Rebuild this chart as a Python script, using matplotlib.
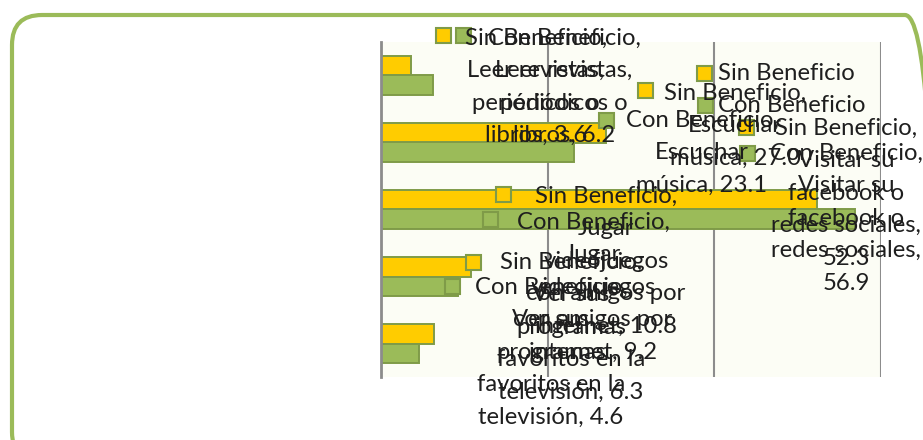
import matplotlib
matplotlib.use("Agg")
import matplotlib.pyplot as plt
from matplotlib.patches import Rectangle, FancyBboxPatch
import numpy as np

# ---------------- data ----------------
categories = [
    "Leer revistas,\nperiódicos o\nlibros",
    "Escuchar\nmúsica",
    "Visitar su\nfacebook o\nredes sociales",
    "Jugar\nvideojuegos\ncon amigos por\ninternet",
    "Ver sus\nprogramas\nfavoritos en la\ntelevisión",
]
series_names = ["Sin Beneficio", "Con Beneficio"]
sin_beneficio = [3.6, 27.0, 52.3, 10.8, 6.3]
con_beneficio = [6.2, 23.1, 56.9, 9.2, 4.6]
x_ticks = [0, 20, 40, 60]

# ---------------- style / layout ----------------
W, H, DPI = 923, 440, 100
YELLOW = "#FFCC00"
GREEN = "#9BBB59"
EDGE = "#7F9B48"
GRID = "#8C8C8C"
TEXT = "#1E1E1E"
FONT = ["Lato", "DejaVu Sans"]
FS = 17.2
LINE_H = 32.6  # px between label lines
# where the value goes after the category text (same line or next line)
value_sep = [" ", " ", "\n", " ", " "]
# label placement (pixels from top-left): text center x, first line y, key x, key y
label_pos = {
    (0, 0): (536, 38, 443.5, 35.5),
    (1, 0): (564, 38, 463.5, 35.5),
    (0, 1): (735, 93, 645, 90.5),
    (1, 1): (702, 120, 606.5, 120),
    (0, 2): (846, 128, 746.5, 127.5),
    (1, 2): (846, 153, 747.5, 153),
    (0, 3): (606, 196, 503.5, 194.5),
    (1, 3): (593, 222, 490.5, 219.5),
    (0, 4): (571, 262, 473.5, 262),
    (1, 4): (551, 287, 452, 286.5),
}
legend_pos = [(704.5, 73), (705, 105)]
KEY = 15

fig = plt.figure(figsize=(W / DPI, H / DPI), dpi=DPI)
fig.patch.set_facecolor("white")

# outer rounded frame (partly outside the picture, as in the original)
frame = FancyBboxPatch((12 / DPI, (H - 462) / DPI), (935 - 12) / DPI, (462 - 15) / DPI,
                       boxstyle="round,pad=0,rounding_size=0.3",
                       transform=fig.dpi_scale_trans, facecolor="none",
                       edgecolor=GREEN, linewidth=3.0, zorder=0)
fig.patches.append(frame)

ax = fig.add_axes([381 / W, 1 - 377 / H, (881 - 381) / W, (377 - 42) / H])
ax.set_facecolor("#FCFDF5")
n = len(categories)
y = np.arange(n)
bh = 0.284
ax.barh(y - bh / 2, sin_beneficio, height=bh, color=YELLOW, edgecolor=EDGE,
        linewidth=1.4, zorder=3, label=series_names[0])
ax.barh(y + bh / 2, con_beneficio, height=bh, color=GREEN, edgecolor=EDGE,
        linewidth=1.4, zorder=3, label=series_names[1])
ax.set_xlim(0, 60)
ax.set_ylim(n - 0.5, -0.5)
ax.set_xticks(x_ticks)
ax.set_xticklabels([])
ax.set_yticks([])
ax.tick_params(length=0)
ax.grid(axis="x", color=GRID, linewidth=1.5, zorder=1)
for s in ["top", "right", "bottom"]:
    ax.spines[s].set_visible(False)
ax.spines["left"].set_color(GRID)
ax.spines["left"].set_linewidth(2)
ax.spines["left"].set_zorder(4)


def fx(x):
    return x / W


def fy(yv):
    return 1 - yv / H


def key(cx, cy, color):
    r = Rectangle(((cx - KEY / 2) / DPI, (H - cy - KEY / 2) / DPI), KEY / DPI, KEY / DPI,
                  transform=fig.dpi_scale_trans, facecolor=color, edgecolor=EDGE,
                  linewidth=1.5, zorder=10)
    fig.patches.append(r)


colors = [YELLOW, GREEN]
values = [sin_beneficio, con_beneficio]

# data labels (series name, category, value) with legend key
for i in range(n):
    for s in range(2):
        cx, y0, mx, my = label_pos[(s, i)]
        txt = f"{series_names[s]},\n{categories[i]},{value_sep[i]}{values[s][i]:.1f}"
        key(mx, my, colors[s])
        for k, line in enumerate(txt.split("\n")):
            fig.text(fx(cx), fy(y0 + k * LINE_H), line, ha="center", va="center",
                     fontsize=FS, family=FONT, color=TEXT, zorder=11)

# legend
for s in range(2):
    lx, ly = legend_pos[s]
    key(lx, ly, colors[s])
    fig.text(fx(lx + 13), fy(ly), series_names[s], ha="left", va="center",
             fontsize=FS, family=FONT, color=TEXT, zorder=11)

fig.savefig("out.png", dpi=DPI)
